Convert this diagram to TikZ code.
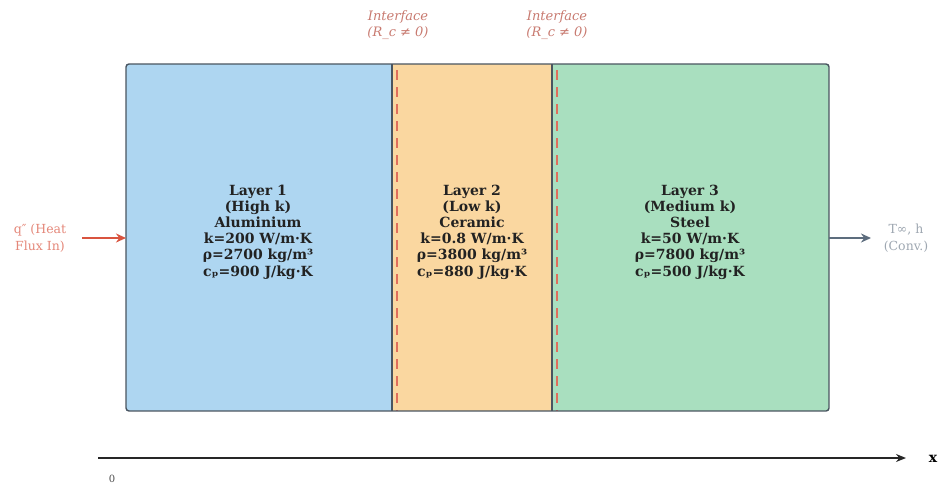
\documentclass[tikz,border=0pt]{standalone}
\usepackage{fontspec}
\setmainfont{DejaVu Serif}
\usetikzlibrary{arrows.meta}
\definecolor{lblue}{HTML}{AED6F1}
\definecolor{lorange}{HTML}{FAD7A0}
\definecolor{lgreen}{HTML}{A9DFBF}
\definecolor{edgec}{HTML}{4A5560}
\definecolor{redc}{HTML}{D9543F}
\definecolor{ifc}{HTML}{C87A70}
\definecolor{grayc}{HTML}{5D6D7E}
\definecolor{txtc}{HTML}{222222}
\tikzset{
  layertxt/.style={align=center,font=\fontsize{14}{16.2}\selectfont\bfseries,text=txtc},
  iftxt/.style={align=center,font=\fontsize{13}{16}\selectfont\itshape,text=ifc},
  sidetxt/.style={align=center,font=\fontsize{12.5}{17}\selectfont},
}
\begin{document}
\begin{tikzpicture}[x=1pt,y=-1pt]
\useasboundingbox (0,0) rectangle (939,487);
% layers
\fill[lblue] (126,64) rectangle (392,411);
\fill[lorange] (392,64) rectangle (552,411);
\fill[lgreen] (552,64) rectangle (829,411);
\draw[redc!85!white,line width=2.5pt,dash pattern=on 10pt off 7pt] (397,70) -- (397,411);
\draw[redc!85!white,line width=2.5pt,dash pattern=on 10pt off 7pt] (557,70) -- (557,411);
\draw[edgec,line width=1.4pt] (392,64) -- (392,411);
\draw[edgec,line width=1.4pt] (552,64) -- (552,411);
\draw[edgec,line width=1.4pt,rounded corners=3pt] (126,64) rectangle (829,411);
\node[layertxt] (l1) at (258,232) {Layer 1\\(High k)\\Aluminium\\k=200 W/m·K\\ρ=2700 kg/m³\\cₚ=900 J/kg·K};
\node[layertxt] (l2) at (472,232) {Layer 2\\(Low k)\\Ceramic\\k=0.8 W/m·K\\ρ=3800 kg/m³\\cₚ=880 J/kg·K};
\node[layertxt] (l3) at (690,232) {Layer 3\\(Medium k)\\Steel\\k=50 W/m·K\\ρ=7800 kg/m³\\cₚ=500 J/kg·K};
% interface labels
\node[iftxt] (if1) at (398,25) {Interface\\(R\_c ≠ 0)};
\node[iftxt] (if2) at (557,25) {Interface\\(R\_c ≠ 0)};
% side arrows
\coordinate (qs) at (82,238);
\coordinate (qe) at (126,238);
\draw[redc,line width=1.8pt,-{Stealth[length=10pt,width=9pt]}] (qs) -- (qe);
\node[sidetxt,text=redc!70!white] (qt) at (40,238) {q″ (Heat\\Flux In)};
\coordinate (ts) at (829,238);
\coordinate (te) at (871,238);
\draw[grayc,line width=1.8pt,-{Stealth[length=10pt,width=9pt]}] (ts) -- (te);
\node[sidetxt,text=grayc!60!white] (tt) at (906,238) {T∞, h\\(Conv.)};
% axis
\coordinate (a0) at (98,458);
\coordinate (a1) at (906,458);
\draw[black!85,line width=1.5pt,-{Stealth[length=10pt,width=8pt]}] (a0) -- (a1);
\node[font=\fontsize{14}{16}\selectfont\bfseries] (xl) at (933,459) {x};
\node[font=\fontsize{10}{12}\selectfont,text=black!70] (zl) at (112,479) {0};
\end{tikzpicture}
\end{document}
